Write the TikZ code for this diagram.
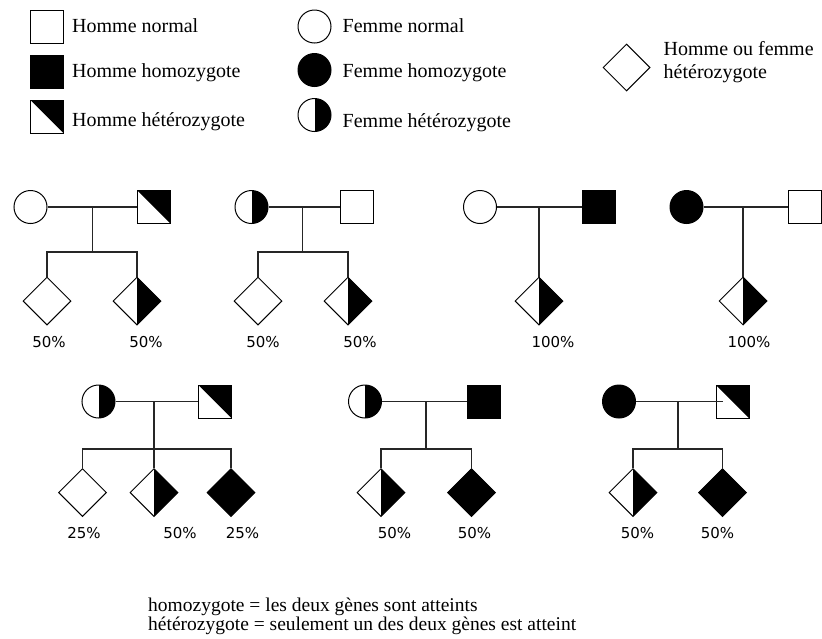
\documentclass[tikz,border=0pt]{standalone}
\usepackage{fontspec}
\setmainfont{Liberation Serif}
\newfontfamily\pctfont{DejaVu Sans}
\usepackage{tikz}
\usetikzlibrary{shapes.geometric, positioning}

\begin{document}
\begin{tikzpicture}[
  x = 1pt, y = -1pt,
  every node/.style = {inner sep=0pt},
  line/.style     = {line width=1.2pt, draw=black!85},
  male/.style     = {rectangle, draw, line width=1pt, minimum size=33pt},
  female/.style   = {circle, draw, line width=1pt, minimum size=33pt},
  child/.style    = {diamond, draw, line width=1pt, minimum size=48pt},
  affected/.style = {fill=black},
  carrierm/.style = {path picture={\fill (path picture bounding box.north west)
                      -- (path picture bounding box.north east)
                      -- (path picture bounding box.south east) -- cycle;}},
  carrierf/.style = {path picture={\fill (path picture bounding box.north)
                      rectangle (path picture bounding box.south east);}},
  legend/.style   = {font=\fontsize{20}{23}\selectfont, text height=17pt, text depth=5pt},
  pct/.style      = {font=\pctfont\fontsize{15}{15}\selectfont},
]
\useasboundingbox (0,0) rectangle (822,638);

% legend
\node[male] (hn) at (47,26.5) {};
\node[male, affected] (hh) at (47,71.5) {};
\node[male, carrierm] (hx) at (47,116.5) {};
\node[legend, right=8pt of hn] (hn-t) {Homme normal};
\node[legend, right=8pt of hh] (hh-t) {Homme homozygote};
\node[legend, right=8pt of hx, yshift=-4pt] (hx-t) {Homme hétérozygote};

\node[female] (fn) at (314.5,26.5) {};
\node[female, affected] (fh) at (314.5,70) {};
\node[female, carrierf] (fx) at (314.5,115) {};
\node[legend, right=11pt of fn] (fn-t) {Femme normal};
\node[legend, right=11pt of fh, yshift=-1.5pt] (fh-t) {Femme homozygote};
\node[legend, right=11pt of fx, yshift=-6pt] (fx-t) {Femme hétérozygote};

\node[child, minimum size=47pt] (dx) at (626.5,67.5) {};
\node[right=13pt of dx, yshift=5pt, align=left,
      font=\fontsize{20}{23}\selectfont] (dx-t) {Homme ou femme\\hétérozygote};

% top row
\node[female] (f1) at (30.5,207) {};
\node[male, carrierm] (m1) at (154,207) {};
\coordinate (c1) at (92.7,207);
\coordinate (s1) at (92.7,252);
\node[child] (k1a) at (47,301) {};
\node[child, carrierf] (k1b) at (137,301) {};
\node[pct] (p1a) at (49,342) {50\%};
\node[pct] (p1b) at (146,342) {50\%};

\node[female, carrierf] (f2) at (251.5,207) {};
\node[male] (m2) at (357,207) {};
\coordinate (c2) at (302.7,207);
\coordinate (s2) at (302.7,252);
\node[child] (k2a) at (258,301) {};
\node[child, carrierf] (k2b) at (348,301) {};
\node[pct] (p2a) at (263,342) {50\%};
\node[pct] (p2b) at (360,342) {50\%};

\node[female] (f3) at (480,207) {};
\node[male, affected] (m3) at (598.5,207) {};
\coordinate (c3) at (539,207);
\node[child, carrierf] (k3) at (539,301) {};
\node[pct] (p3) at (553,342) {100\%};

\node[female, affected] (f4) at (686.5,207) {};
\node[male] (m4) at (804.5,207) {};
\coordinate (c4) at (743,207);
\node[child, carrierf] (k4) at (743,301) {};
\node[pct] (p4) at (749,342) {100\%};

% bottom row
\node[female, carrierf] (f5) at (98.5,401.5) {};
\node[male, carrierm] (m5) at (215,401.5) {};
\coordinate (c5) at (154,401.5);
\coordinate (s5) at (154,449);
\node[child] (k5a) at (82.5,492.5) {};
\node[child, carrierf] (k5b) at (154,492.5) {};
\node[child, affected] (k5c) at (231,492.5) {};
\node[pct] (p5a) at (84,533) {25\%};
\node[pct] (p5b) at (180,533) {50\%};
\node[pct] (p5c) at (242.5,533) {25\%};

\node[female, carrierf] (f6) at (365,401.5) {};
\node[male, affected] (m6) at (484,401.5) {};
\coordinate (c6) at (426,401.5);
\coordinate (s6) at (426,449);
\node[child, carrierf] (k6a) at (381,492.5) {};
\node[child, affected] (k6b) at (471.5,492.5) {};
\node[pct] (p6a) at (394.5,533) {50\%};
\node[pct] (p6b) at (474.5,533) {50\%};

\node[female, affected] (f7) at (619,401.5) {};
\node[male, carrierm] (m7) at (732.5,401.5) {};
\coordinate (c7) at (678,401.5);
\coordinate (s7) at (678,449);
\node[child, carrierf] (k7a) at (633,492.5) {};
\node[child, affected] (k7b) at (722.5,492.5) {};
\node[pct] (p7a) at (637.5,533) {50\%};
\node[pct] (p7b) at (717.5,533) {50\%};

% lines
\draw[line] (f1) -- (m1);
\draw[line] (c1) -- (s1);
\draw[line] (k1a.north) |- (s1) -| (k1b.north);
\draw[line] (f2) -- (m2);
\draw[line] (c2) -- (s2);
\draw[line] (k2a.north) |- (s2) -| (k2b.north);
\draw[line] (f3) -- (m3);
\draw[line] (c3) -- (k3.north);
\draw[line] (f4) -- (m4);
\draw[line] (c4) -- (k4.north);
\draw[line] (f5) -- (m5);
\draw[line] (c5) -- (k5b.north);
\draw[line] (k5a.north) |- (s5) -| (k5c.north);
\draw[line] (f6) -- (m6);
\draw[line] (c6) -- (s6);
\draw[line] (k6a.north) |- (s6) -| (k6b.north);
\draw[line] (f7) -- ([xshift=7pt]m7.west);
\draw[line] (c7) -- (s7);
\draw[line] (k7a.north) |- (s7) -| (k7b.north);

% note
\node[anchor=north west, align=left, font=\fontsize{19.5}{19}\selectfont] (note)
  at (148,597.5) {homozygote = les deux gènes sont atteints\\
  hétérozygote = seulement un des deux gènes est atteint};
\end{tikzpicture}
\end{document}
